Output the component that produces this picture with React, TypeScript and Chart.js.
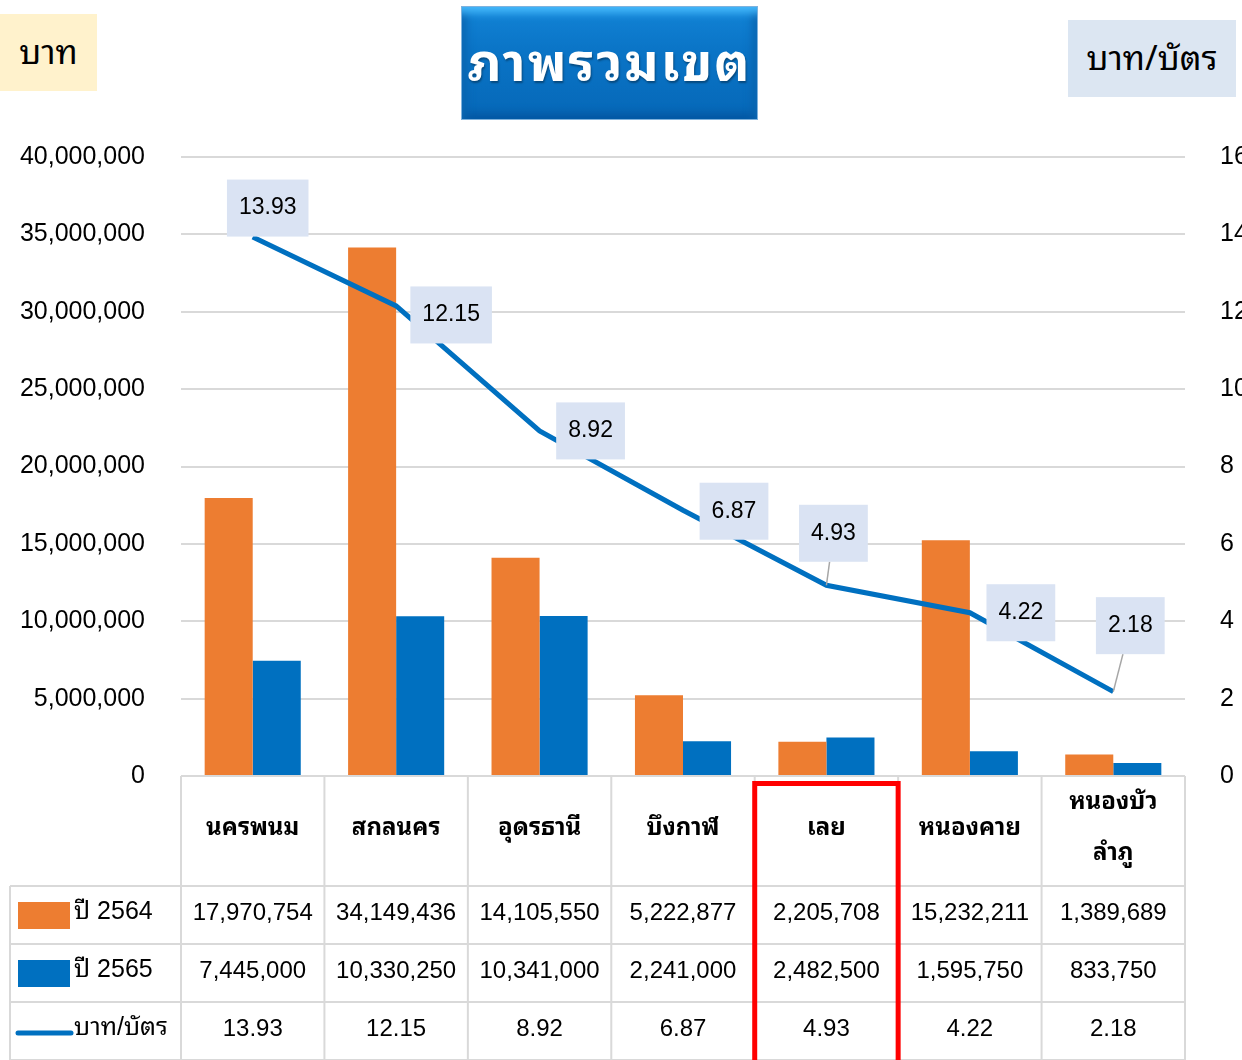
import React, { useEffect, useRef } from 'react';
import { Chart, registerables } from 'chart.js';

Chart.register(...registerables);

const categories: string[][] = [['นครพนม'], ['สกลนคร'], ['อุดรธานี'], ['บึงกาฬ'], ['เลย'], ['หนองคาย'], ['หนองบัว', 'ลำภู']];
const series2564 = [17970754, 34149436, 14105550, 5222877, 2205708, 15232211, 1389689];
const series2565 = [7445000, 10330250, 10341000, 2241000, 2482500, 1595750, 833750];
const perCard = [13.93, 12.15, 8.92, 6.87, 4.93, 4.22, 2.18];
const seriesNames = ['ปี 2564', 'ปี 2565', 'บาท/บัตร'];
const leftAxis = { min: 0, max: 40000000, step: 5000000 };
const rightAxis = { min: 0, max: 16, step: 2 };
const highlightIndex = 4;
const titleText = 'ภาพรวมเขต';
const leftUnit = 'บาท';
const rightUnit = 'บาท/บัตร';

// label box offsets (style/position, relative to point)
const labelOffsets = [[15, -29], [55, 9], [51, 0], [51, 1], [7, -52], [51, 0], [17, -66]];

const ORANGE = '#ed7d31';
const BLUE = '#0070c0';
const GRID = '#d9d9d9';
const FONT = "'Liberation Sans', 'Noto Sans Thai Looped', Loma, Garuda, 'Noto Sans Thai', sans-serif";
const THAI_FONT = "'Noto Sans Thai Looped', Loma, Garuda, Tahoma, 'Noto Sans Thai', 'DejaVu Sans', sans-serif";

const fmt = (v: number) => v.toLocaleString('en-US');

const tablePlugin = {
  id: 'dataTable',
  afterDatasetsDraw(chart: any) {
    const ctx = chart.ctx as CanvasRenderingContext2D;
    const y1 = chart.scales.y1;
    ctx.save();
    perCard.forEach((v, i) => {
      const px = chart.scales.x.getPixelForValue(i);
      const py = y1.getPixelForValue(v);
      const [dx, dy] = labelOffsets[i];
      ctx.font = `23px ${FONT}`;
      const text = v.toFixed(2);
      const w = ctx.measureText(text).width + 24;
      const h = 57;
      const cx = px + dx;
      const cy = py + dy;
      const bx = cx - w / 2;
      const by = cy - h / 2;
      const nx = Math.max(bx, Math.min(px, bx + w));
      const ny = Math.max(by, Math.min(py, by + h));
      const dist = Math.hypot(nx - px, ny - py);
      if (dist > 20) {
        const ddx = cx - px, ddy = cy - py;
        let t = 1;
        if (ddx !== 0) {
          const tx = ddx > 0 ? (bx - px) / ddx : (bx + w - px) / ddx;
          if (tx > 0 && tx < t) { const yy = py + ddy * tx; if (yy >= by && yy <= by + h) t = tx; }
        }
        if (ddy !== 0) {
          const ty = ddy > 0 ? (by - py) / ddy : (by + h - py) / ddy;
          if (ty > 0 && ty < t) { const xx = px + ddx * ty; if (xx >= bx && xx <= bx + w) t = ty; }
        }
        ctx.strokeStyle = '#a6a6a6';
        ctx.lineWidth = 1.5;
        ctx.beginPath();
        ctx.moveTo(px, py);
        ctx.lineTo(px + ddx * t, py + ddy * t);
        ctx.stroke();
      }
      ctx.fillStyle = '#dae3f3';
      ctx.fillRect(bx, by, w, h);
      ctx.fillStyle = '#000';
      ctx.textAlign = 'center';
      ctx.textBaseline = 'middle';
      ctx.fillText(text, cx, cy);
    });
    ctx.restore();
  },
  afterDraw(chart: any) {
    const ctx = chart.ctx as CanvasRenderingContext2D;
    const area = chart.chartArea;
    const xs = chart.scales.x;
    const n = categories.length;
    const colW = (area.right - area.left) / n;
    const top = area.bottom;
    const headerH = 110;
    const rowH = 58;
    const tableLeft = 10;
    const rowsTop = top + headerH;
    const bottom = rowsTop + rowH * 3;
    ctx.save();
    ctx.strokeStyle = GRID;
    ctx.lineWidth = 2;
    ctx.beginPath();
    for (let i = 0; i <= n; i++) {
      const x = area.left + colW * i;
      ctx.moveTo(x, top);
      ctx.lineTo(x, bottom);
    }
    ctx.moveTo(tableLeft, rowsTop);
    ctx.lineTo(tableLeft, bottom);
    for (let r = 0; r <= 3; r++) {
      const y = rowsTop + rowH * r;
      ctx.moveTo(tableLeft, y);
      ctx.lineTo(area.right, y);
    }
    ctx.stroke();

    // headers
    ctx.fillStyle = '#000';
    ctx.textAlign = 'center';
    ctx.textBaseline = 'middle';
    ctx.font = `bold 24px ${THAI_FONT}`;
    categories.forEach((lines, i) => {
      const cx = xs.getPixelForValue(i);
      const midY = top + headerH / 2 - 3;
      const lh = 51;
      lines.forEach((ln, k) => {
        const yy = midY + (k - (lines.length - 1) / 2) * lh;
        ctx.fillText(ln, cx, yy);
      });
    });

    // values
    ctx.font = `24px ${FONT}`;
    const rows = [series2564.map(fmt), series2565.map(fmt), perCard.map((v) => v.toFixed(2))];
    rows.forEach((row, r) => {
      const cy = rowsTop + rowH * r + rowH / 2 - 2;
      row.forEach((t, i) => {
        ctx.fillText(t, xs.getPixelForValue(i), cy);
      });
    });

    // legend keys
    ctx.textAlign = 'left';
    ctx.font = `25px ${FONT}`;
    seriesNames.forEach((name, r) => {
      const cy = rowsTop + rowH * r + rowH / 2;
      if (r < 2) {
        ctx.fillStyle = r === 0 ? ORANGE : BLUE;
        ctx.fillRect(18, cy - 13, 52, 27);
      } else {
        ctx.strokeStyle = BLUE;
        ctx.lineWidth = 5;
        ctx.lineCap = 'round';
        ctx.beginPath();
        ctx.moveTo(18, cy + 2);
        ctx.lineTo(71, cy + 2);
        ctx.stroke();
      }
      ctx.fillStyle = '#000';
      ctx.fillText(name, 74, cy - 3);
    });

    // highlight
    const hx = xs.getPixelForValue(highlightIndex);
    ctx.strokeStyle = '#ff0000';
    ctx.lineWidth = 5;
    ctx.lineCap = 'butt';
    ctx.strokeRect(hx - colW / 2, top + 7.5, colW, bottom - top + 10);
    ctx.restore();
  },
};

export default function App() {
  const ref = useRef<HTMLCanvasElement | null>(null);
  useEffect(() => {
    if (!ref.current) return;
    const chart = new Chart(ref.current, {
      type: 'bar',
      data: {
        labels: categories.map((c) => c.join('')),
        datasets: [
          {
            type: 'bar',
            label: seriesNames[0],
            data: series2564,
            backgroundColor: ORANGE,
            yAxisID: 'y',
            order: 2,
            categoryPercentage: 0.67,
            barPercentage: 1,
          },
          {
            type: 'bar',
            label: seriesNames[1],
            data: series2565,
            backgroundColor: BLUE,
            yAxisID: 'y',
            order: 2,
            categoryPercentage: 0.67,
            barPercentage: 1,
          },
          {
            type: 'line',
            label: seriesNames[2],
            data: perCard,
            borderColor: BLUE,
            borderWidth: 5,
            pointRadius: 0,
            tension: 0,
            yAxisID: 'y1',
            order: 0,
          } as any,
        ],
      },
      options: {
        responsive: false,
        animation: false,
        devicePixelRatio: 1,
        layout: { padding: { top: 157, bottom: 284, left: 0, right: 0 } },
        plugins: { legend: { display: false }, tooltip: { enabled: false } },
        scales: {
          x: { display: false },
          y: {
            position: 'left',
            min: leftAxis.min,
            max: leftAxis.max,
            border: { display: false },
            grid: { color: GRID, lineWidth: 2, drawTicks: false },
            ticks: {
              stepSize: leftAxis.step,
              padding: 36,
              color: '#000',
              font: { family: FONT, size: 25 },
              callback: (v: any) => fmt(Number(v)),
            },
            afterFit: (s: any) => { s.width = 181; },
          },
          y1: {
            position: 'right',
            min: rightAxis.min,
            max: rightAxis.max,
            border: { display: false },
            grid: { drawOnChartArea: false, drawTicks: false },
            ticks: {
              stepSize: rightAxis.step,
              padding: 35,
              color: '#000',
              font: { family: FONT, size: 25 },
            },
            afterFit: (s: any) => { s.width = 57; },
          },
        },
      },
      plugins: [tablePlugin],
    });
    return () => chart.destroy();
  }, []);

  return (
    <div style={{ position: 'absolute', left: 0, top: 0, width: 1242, height: 1060, background: '#fff', overflow: 'hidden', fontFamily: THAI_FONT }}>
      <canvas ref={ref} width={1242} height={1060} style={{ position: 'absolute', left: 0, top: 0 }} />
      <div style={{ position: 'absolute', left: 0, top: 14, width: 97, height: 77, boxSizing: 'border-box', paddingBottom: 8, background: '#fff2cc', display: 'flex', alignItems: 'center', justifyContent: 'center', fontSize: 34, color: '#000' }}>{leftUnit}</div>
      <div style={{ position: 'absolute', left: 1068, top: 20, width: 168, height: 77, boxSizing: 'border-box', paddingBottom: 8, background: '#dce6f2', display: 'flex', alignItems: 'center', justifyContent: 'center', fontSize: 34, color: '#000' }}>{rightUnit}</div>
      <div style={{
        position: 'absolute', left: 461, top: 6, width: 297, height: 114, boxSizing: 'border-box', paddingBottom: 12,
        background: 'linear-gradient(to bottom, #1283d6 0%, #0a74c6 40%, #0668b8 100%)',
        border: '1px solid #7fb2dd',
        boxShadow: 'inset 0 12px 8px -6px #45b8fb, inset 12px 0 10px -8px #0a62ad, inset -12px 0 10px -8px #0a62ad, inset 0 -12px 8px -6px #0559a3',
        display: 'flex', alignItems: 'center', justifyContent: 'center',
        color: '#fff', fontSize: 52, fontWeight: 'bold', letterSpacing: 2,
        textShadow: '1px 2px 2px rgba(0,0,0,0.35)',
      }}>{titleText}</div>
    </div>
  );
}
